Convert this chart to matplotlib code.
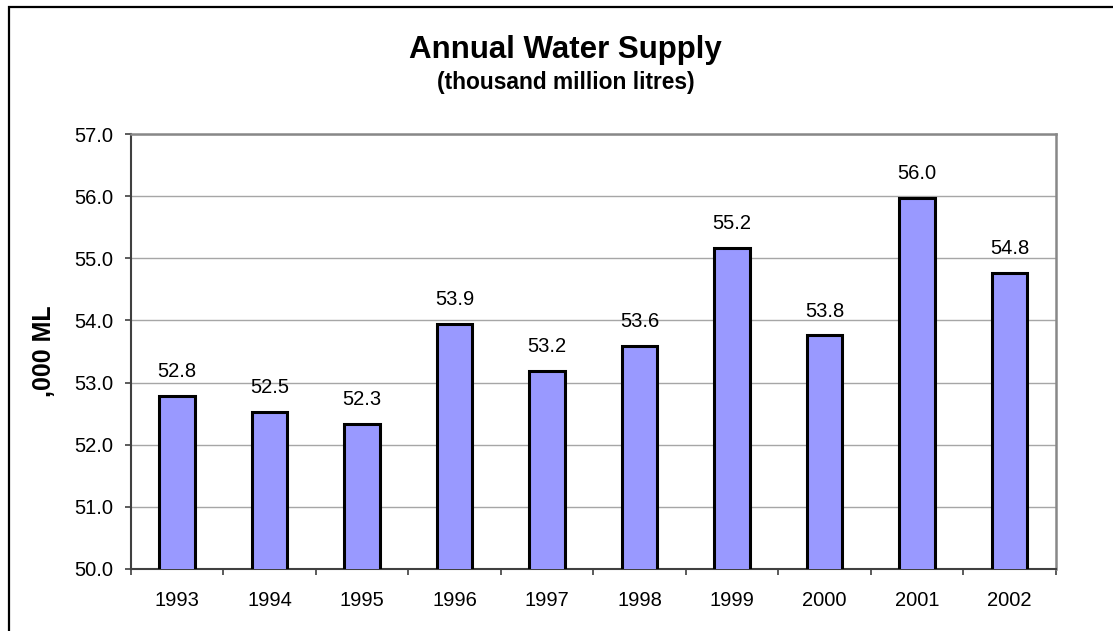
import matplotlib
matplotlib.use('Agg')
import matplotlib.pyplot as plt
from matplotlib.patches import Rectangle
from matplotlib.ticker import MultipleLocator, FormatStrFormatter
import numpy as np

plt.rcParams['font.family'] = ['Liberation Sans', 'DejaVu Sans']

# data
years = ['1993', '1994', '1995', '1996', '1997', '1998', '1999', '2000', '2001', '2002']
supply = [52.79, 52.53, 52.34, 53.94, 53.19, 53.59, 55.17, 53.76, 55.97, 54.76]

W, H = 1113, 631
fig = plt.figure(figsize=(W / 100, H / 100), dpi=100)
ax = fig.add_axes([130.7 / W, (H - 569) / H, 925 / W, 435 / H])

x = np.arange(len(years))
bars = ax.bar(x, supply, width=0.385, bottom=0, color='#9999FF',
              edgecolor='black', linewidth=2.2, zorder=3)

ax.set_ylim(50, 57)
ax.set_xlim(-0.5, len(years) - 0.5)
ax.yaxis.set_major_locator(MultipleLocator(1))
ax.yaxis.set_major_formatter(FormatStrFormatter('%.1f'))
ax.grid(axis='y', color='#a6a6a6', linewidth=1.0, zorder=0)

# category labels at centres, tick marks on the boundaries
ax.set_xticks(x)
ax.set_xticklabels(years, fontsize=14.5)
ax.set_xticks(np.arange(-0.5, len(years)), minor=True)
ax.tick_params(axis='x', which='major', length=0, pad=16)
ax.tick_params(axis='x', which='minor', length=4, width=1.2, direction='out', color='#404040')
ax.tick_params(axis='y', labelsize=14.5, length=4.5, width=1.2, pad=8, color='#404040')

for s in ['top', 'right']:
    ax.spines[s].set_color('#888888')
    ax.spines[s].set_linewidth(1.8)
for s in ['left', 'bottom']:
    ax.spines[s].set_color('#404040')
    ax.spines[s].set_linewidth(1.5)

# value labels above bars
for xi, v in zip(x, supply):
    ax.annotate(f'{v:.1f}', (xi, v), xytext=(0, 17.5), textcoords='offset points',
                ha='center', va='center', fontsize=14.5)

ax.set_ylabel(',000 ML', fontsize=18, fontweight='bold', labelpad=13)

fig.text(565 / W, 1 - 50 / H, 'Annual Water Supply', ha='center', va='center',
         fontsize=22.5, fontweight='bold')
fig.text(566 / W, 1 - 83 / H, '(thousand million litres)', ha='center', va='center',
         fontsize=16.4, fontweight='bold')

# outer chart border (cropped at right and bottom)
fig.add_artist(Rectangle((9 / W, -0.1), 1.2, 1 - 7 / H + 0.1, transform=fig.transFigure,
                         fill=False, edgecolor='black', linewidth=1.6))

fig.savefig('out.png', dpi=100)
